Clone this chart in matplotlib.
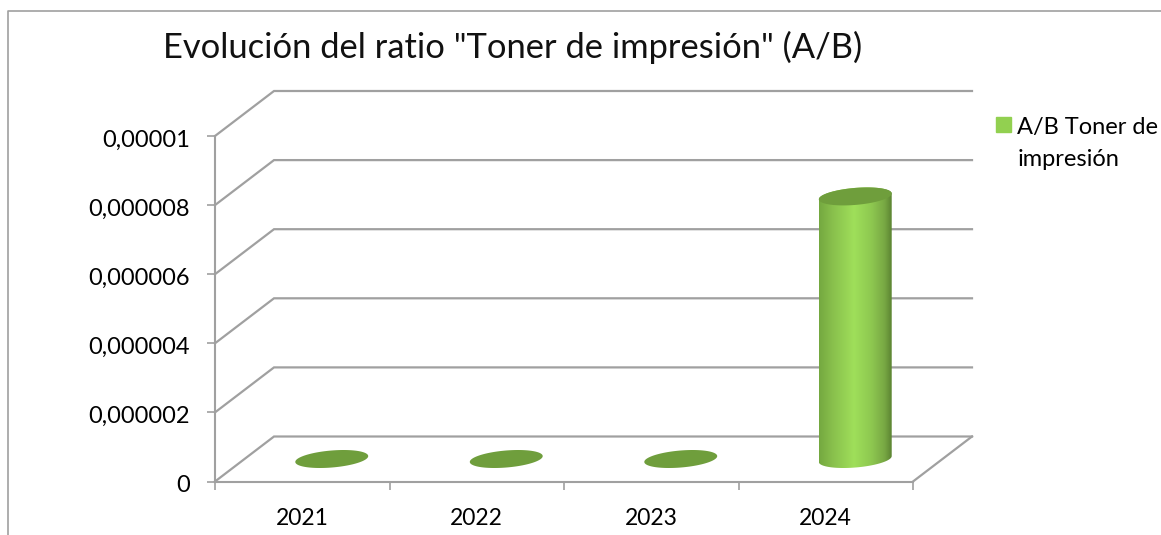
#!/usr/bin/python3

import numpy as np
import matplotlib
matplotlib.use('Agg')
import matplotlib.pyplot as plt
from matplotlib.colors import LinearSegmentedColormap
from matplotlib.legend_handler import HandlerPatch
from matplotlib.patches import Patch, PathPatch, Polygon, Rectangle
from matplotlib.path import Path
from matplotlib.transforms import ScaledTranslation

plt.rcParams['font.family'] = ['Lato', 'DejaVu Sans']

years = ['2021', '2022', '2023', '2024']
ratio = [0, 0, 0, 0.0000076]
y_ticks = [0, 0.000002, 0.000004, 0.000006, 0.000008, 0.00001]
y_labels = ['0', '0,000002', '0,000004', '0,000006', '0,000008', '0,00001']
title = 'Evolución del ratio "Toner de impresión" (A/B)'
legend_label = 'A/B Toner de\nimpresión'

W, H = 1161, 535
GREY = '#a0a0a0'
TOP_GREEN = '#6f9e3c'
# depth of the fake 3d box, in data units
DEPTH_X = 59 / 174.5
DEPTH_Y = 45 / 345.5 * 0.00001
RX = 34.5 / 174.5


def ellipse(cx, cy, t):
  return (cx + RX * np.cos(t) + 0.2 * DEPTH_X * np.sin(t),
          cy + 0.2 * DEPTH_Y * np.sin(t))


def square_handle(legend, orig_handle, xdescent, ydescent, width, height, fontsize):
  # square sits beside the first line of the two line label
  return Rectangle((-xdescent, -ydescent + 14), width, width)


def main():
  fig = plt.figure(figsize=(W / 100, H / 100), dpi=100)
  ax = fig.add_axes([215 / W, (H - 481.5) / H, 698 / W, 345.5 / H])
  ax.patch.set_visible(False)

  # outer chart border
  fig.add_artist(plt.Line2D([8 / W, 8 / W, 1], [0, (H - 11) / H, (H - 11) / H],
                            color=GREY, lw=1.2))

  # walls and floor
  for v in y_ticks:
    ax.plot([0, DEPTH_X, 4 + DEPTH_X], [v, v + DEPTH_Y, v + DEPTH_Y], color=GREY,
            lw=1.6, clip_on=False, zorder=1, solid_joinstyle='miter')
  ax.plot([4, 4 + DEPTH_X], [0, DEPTH_Y], color=GREY, lw=1.6, clip_on=False, zorder=1)

  cmap = LinearSegmentedColormap.from_list('cyl', [
      (0, '#74a840'), (0.18, '#88bf4c'), (0.48, '#9fdf5a'), (0.72, '#8ec850'),
      (0.9, '#78a844'), (1, '#5b8331')])

  for i, val in enumerate(ratio):
    cx = i + 0.5 + DEPTH_X / 2
    y0 = DEPTH_Y / 2
    y1 = y0 + val
    if val > 0:
      t_r = np.arctan2(0.2 * DEPTH_X, RX)
      low = np.linspace(t_r - np.pi, t_r, 60)
      up = np.linspace(t_r, t_r + np.pi, 60)
      xl, yl = ellipse(cx, y0, low)
      xu, yu = ellipse(cx, y1, up)
      verts = np.column_stack([np.r_[xl, xu], np.r_[yl, yu]])
      left, right = verts[:, 0].min(), verts[:, 0].max()
      im = ax.imshow(np.linspace(0, 1, 256)[None, :], cmap=cmap, aspect='auto',
                     extent=[left, right, verts[:, 1].min(), verts[:, 1].max()],
                     zorder=3, interpolation='bilinear')
      body = PathPatch(Path(verts, closed=False), transform=ax.transData,
                       fc='none', ec='none')
      ax.add_patch(body)
      im.set_clip_path(body)
    ex, ey = ellipse(cx, y1, np.linspace(0, 2 * np.pi, 120))
    ax.add_patch(Polygon(np.column_stack([ex, ey]), closed=True, fc=TOP_GREEN,
                         ec='none', zorder=4, clip_on=False))

  ax.set_xlim(0, 4)
  ax.set_ylim(0, 0.00001)
  ax.set_yticks(y_ticks)
  ax.set_yticklabels(y_labels)
  ax.set_xticks(np.arange(len(years)) + 0.5)
  ax.set_xticklabels(years)
  ax.set_xticks(np.arange(len(years) + 1), minor=True)
  ax.tick_params(axis='x', which='major', length=0, pad=19, labelsize=16.5)
  ax.tick_params(axis='x', which='minor', length=6, width=1.2, color=GREY)
  ax.tick_params(axis='y', length=6, width=1.2, color=GREY, pad=12, labelsize=17)
  shift = ScaledTranslation(0, -1.5 / 72, fig.dpi_scale_trans)
  for lab in ax.get_yticklabels():
    lab.set_transform(lab.get_transform() + shift)
  for side in ('top', 'right'):
    ax.spines[side].set_visible(False)
  for side in ('left', 'bottom'):
    ax.spines[side].set_color(GREY)
    ax.spines[side].set_linewidth(1.5)

  fig.text(163 / W, (H - 47) / H, title, fontsize=24.8, va='center', ha='left', color='#111111')

  leg = fig.legend(handles=[Patch(color='#92d050', label=legend_label)], frameon=False,
                   loc='upper left', bbox_to_anchor=(996 / W, (H - 117) / H), fontsize=17,
                   handlelength=0.64, handleheight=0.64, handletextpad=0.26, borderpad=0,
                   borderaxespad=0, labelspacing=0,
                   handler_map={Patch: HandlerPatch(patch_func=square_handle)})
  leg.get_texts()[0].set_linespacing(1.65)

  plt.savefig('out.png', dpi=100)
  plt.close()


if __name__ == "__main__":
  main()
